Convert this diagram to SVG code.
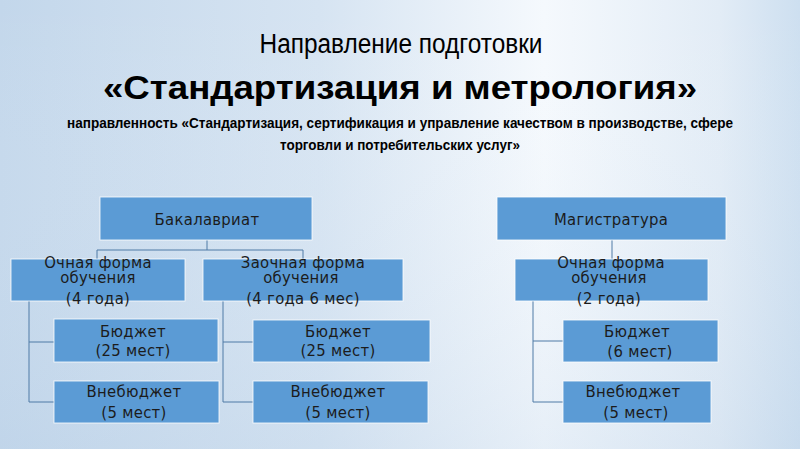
<svg xmlns="http://www.w3.org/2000/svg" width="800" height="449" viewBox="0 0 800 449">
<defs>
<linearGradient id="bg" x1="0" y1="0" x2="1" y2="0">
<stop offset="0" stop-color="#c3d7eb"/>
<stop offset="0.4" stop-color="#d6e4f2"/>
<stop offset="0.68" stop-color="#f5f9fd"/>
<stop offset="0.9" stop-color="#e2ecf6"/>
<stop offset="1" stop-color="#cddff0"/>
</linearGradient>
<linearGradient id="bgv" x1="0" y1="0" x2="0" y2="1">
<stop offset="0" stop-color="#ffffff" stop-opacity="0"/>
<stop offset="1" stop-color="#b9cfe6" stop-opacity="0.25"/>
</linearGradient>
</defs>
<style>
.box{fill:#5b9bd5;stroke:#ffffff;stroke-width:1;stroke-opacity:0.8}
.t{font-family:"DejaVu Sans",Verdana,sans-serif;font-stretch:condensed;font-size:16.5px;fill:#1c1c1c;text-anchor:middle;letter-spacing:0.3px}
.ln{fill:none;stroke:#4f7aa6;stroke-width:1}
.h{font-family:"Liberation Sans",Arial,sans-serif;fill:#000;text-anchor:middle}
</style>
<rect width="800" height="449" fill="url(#bg)"/>
<rect width="800" height="449" fill="url(#bgv)"/>
<g id="title">
<text class="h" x="401" y="53" font-size="27" textLength="283" lengthAdjust="spacingAndGlyphs">Направление подготовки</text>
<text class="h" x="400" y="99" font-size="33" font-weight="bold" textLength="594" lengthAdjust="spacingAndGlyphs">«Стандартизация и метрология»</text>
<text class="h" x="400" y="128" font-size="15" font-weight="bold" textLength="666" lengthAdjust="spacingAndGlyphs">направленность «Стандартизация, сертификация и управление качеством в производстве, сфере</text>
<text class="h" x="400" y="150" font-size="15" font-weight="bold" textLength="240" lengthAdjust="spacingAndGlyphs">торговли и потребительских услуг»</text>
</g>
<g id="connectors">
<path class="ln" d="M207 240V250M97 259V250H303V259"/>
<path class="ln" d="M29 301V402H55M29 342H55"/>
<path class="ln" d="M223 301V402H253M223 342H253"/>
<path class="ln" d="M612 240V259"/>
<path class="ln" d="M533 301V402H563M533 341H563"/>
</g>
<g id="bak">
<rect class="box" x="100" y="197" width="212" height="43"/>
<text class="t" x="207" y="225">Бакалавриат</text>
</g>
<g id="bak-och">
<rect class="box" x="11" y="259" width="174" height="42"/>
<text class="t" x="98" y="268">Очная форма</text>
<text class="t" x="98" y="283">обучения</text>
<text class="t" x="98" y="304">(4 года)</text>
</g>
<g id="bak-zaoch">
<rect class="box" x="203" y="259" width="200" height="42"/>
<text class="t" x="303" y="268">Заочная форма</text>
<text class="t" x="301" y="283">обучения</text>
<text class="t" x="303" y="304">(4 года 6 мес)</text>
</g>
<g id="bak-och-budget">
<rect class="box" x="54" y="319" width="164" height="43"/>
<text class="t" x="133" y="337">Бюджет</text>
<text class="t" x="133" y="356">(25 мест)</text>
</g>
<g id="bak-och-vne">
<rect class="box" x="54" y="381" width="165" height="42"/>
<text class="t" x="134" y="397">Внебюджет</text>
<text class="t" x="134" y="418">(5 мест)</text>
</g>
<g id="bak-zaoch-budget">
<rect class="box" x="253" y="320" width="177" height="42"/>
<text class="t" x="338" y="337">Бюджет</text>
<text class="t" x="338" y="356">(25 мест)</text>
</g>
<g id="bak-zaoch-vne">
<rect class="box" x="253" y="381" width="175" height="42"/>
<text class="t" x="338" y="397">Внебюджет</text>
<text class="t" x="338" y="418">(5 мест)</text>
</g>
<g id="mag">
<rect class="box" x="497" y="197" width="229" height="43"/>
<text class="t" x="611" y="225">Магистратура</text>
</g>
<g id="mag-och">
<rect class="box" x="515" y="259" width="193" height="42"/>
<text class="t" x="611" y="268">Очная форма</text>
<text class="t" x="609" y="283">обучения</text>
<text class="t" x="609" y="304">(2 года)</text>
</g>
<g id="mag-budget">
<rect class="box" x="563" y="320" width="155" height="42"/>
<text class="t" x="637" y="337">Бюджет</text>
<text class="t" x="640" y="357">(6 мест)</text>
</g>
<g id="mag-vne">
<rect class="box" x="563" y="381" width="148" height="42"/>
<text class="t" x="633" y="397">Внебюджет</text>
<text class="t" x="636" y="418">(5 мест)</text>
</g>
</svg>
